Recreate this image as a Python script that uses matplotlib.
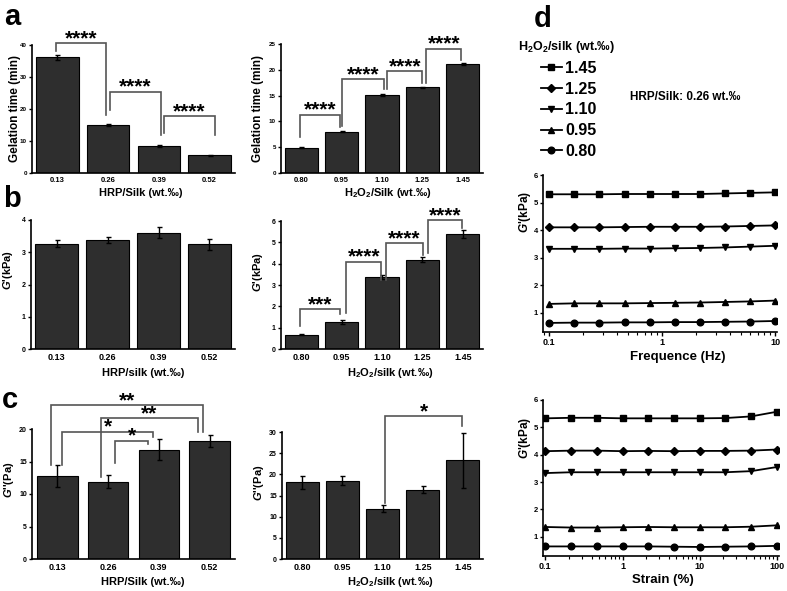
import matplotlib
matplotlib.use('Agg')
import matplotlib.pyplot as plt
from matplotlib.ticker import NullFormatter

plt.rcParams['font.family'] = 'Liberation Sans'
plt.rcParams['font.weight'] = 'bold'
plt.rcParams['mathtext.fontset'] = 'custom'
plt.rcParams['mathtext.rm'] = 'Liberation Sans:bold'
plt.rcParams['mathtext.it'] = 'Liberation Sans:italic:bold'
plt.rcParams['mathtext.bf'] = 'Liberation Sans:bold'

# ---- data ----
hrp_levels = ['0.13', '0.26', '0.39', '0.52']
h2o2_levels = ['0.80', '0.95', '1.10', '1.25', '1.45']

gel_hrp = [36.2, 15.1, 8.4, 5.5]
gel_hrp_err = [0.8, 0.3, 0.2, 0.2]
gel_h2o2 = [4.9, 8.0, 15.1, 16.6, 21.1]
gel_h2o2_err = [0.15, 0.15, 0.2, 0.15, 0.25]

gp_hrp = [3.27, 3.38, 3.60, 3.25]
gp_hrp_err = [0.1, 0.1, 0.17, 0.17]
gp_h2o2 = [0.67, 1.27, 3.38, 4.18, 5.38]
gp_h2o2_err = [0.03, 0.1, 0.08, 0.12, 0.2]

gpp_hrp = [12.8, 11.9, 16.8, 18.2]
gpp_hrp_err = [1.7, 1.0, 1.6, 0.9]
gpp_h2o2 = [18.1, 18.5, 11.9, 16.4, 23.3]
gpp_h2o2_err = [1.5, 1.0, 0.9, 0.8, 6.5]

# significance brackets: (left x, right x, top y, left leg end, right leg end, label)
sig_gel_hrp = [(-0.02, 0.96, 40.5, 38.2, 18.1, '****'),
               (1.04, 2.04, 25.4, 19.7, 11.9, '****'),
               (2.1, 3.1, 17.8, 12.5, 11.9, '****')]
sig_gel_h2o2 = [(-0.04, 0.96, 11.3, 6.9, 9.0, '****'),
                (1.02, 2.05, 18.2, 9.1, 16.2, '****'),
                (2.13, 3.0, 19.8, 16.2, 17.5, '****'),
                (3.1, 3.96, 24.1, 17.5, 21.9, '****')]
sig_gp_h2o2 = [(-0.02, 0.96, 1.87, 1.06, 1.65, '***'),
               (1.12, 1.98, 4.09, 1.68, 3.24, '****'),
               (2.1, 3.02, 4.95, 3.24, 4.41, '****'),
               (3.13, 3.98, 6.04, 4.49, 5.65, '****')]
sig_gpp_hrp = [(-0.13, 2.86, 23.7, 14.5, 19.6, '**'),
               (0.85, 2.77, 21.7, 12.6, 19.6, '**'),
               (0.09, 1.89, 19.6, 14.5, 18.8, '*'),
               (1.13, 1.79, 18.2, 14.8, 17.7, '*')]
sig_gpp_h2o2 = [(2.07, 3.98, 33.7, 13.2, 31.3, '*')]

series_labels = ['1.45', '1.25', '1.10', '0.95', '0.80']
series_markers = ['s', 'D', 'v', '^', 'o']

freq = [0.1, 0.167, 0.278, 0.464, 0.774, 1.29, 2.15, 3.59, 5.99, 10.0]
freq_145 = [5.30, 5.30, 5.30, 5.31, 5.31, 5.31, 5.31, 5.33, 5.35, 5.37]
freq_125 = [4.10, 4.10, 4.10, 4.11, 4.12, 4.12, 4.12, 4.13, 4.15, 4.17]
freq_110 = [3.32, 3.32, 3.32, 3.33, 3.33, 3.34, 3.35, 3.37, 3.40, 3.43]
freq_095 = [1.32, 1.34, 1.34, 1.34, 1.35, 1.36, 1.37, 1.39, 1.41, 1.44]
freq_080 = [0.63, 0.64, 0.64, 0.65, 0.65, 0.66, 0.66, 0.67, 0.68, 0.70]

strain = [0.1, 0.215, 0.464, 1.0, 2.15, 4.64, 10.0, 21.5, 46.4, 100.0]
strain_145 = [5.33, 5.35, 5.35, 5.33, 5.33, 5.33, 5.33, 5.34, 5.40, 5.57]
strain_125 = [4.13, 4.15, 4.15, 4.13, 4.14, 4.13, 4.14, 4.14, 4.15, 4.19]
strain_110 = [3.33, 3.36, 3.36, 3.36, 3.36, 3.36, 3.36, 3.36, 3.40, 3.55]
strain_095 = [1.36, 1.34, 1.34, 1.35, 1.36, 1.35, 1.35, 1.35, 1.37, 1.42]
strain_080 = [0.65, 0.65, 0.65, 0.65, 0.65, 0.64, 0.63, 0.64, 0.65, 0.67]

W, H = 787, 591
fig = plt.figure(figsize=(W / 100, H / 100), dpi=100)
fig.patch.set_facecolor('white')


def px_axes(left, top, right, bottom):
    return fig.add_axes([left / W, 1 - bottom / H, (right - left) / W, (bottom - top) / H])


def ftext(x, y, s, **kw):
    return fig.text(x / W, 1 - y / H, s, **kw)


def style_axes(ax):
    for s in ['top', 'right']:
        ax.spines[s].set_visible(False)
    for s in ['left', 'bottom']:
        ax.spines[s].set_linewidth(1.2)


def bar_panel(ax, labels, vals, errs, ymax, ystep, width, xsize, ysize):
    x = list(range(len(vals)))
    ax.bar(x, vals, width=width, color='#2e2e2e', edgecolor='black', linewidth=0.8,
           yerr=errs, capsize=1.8, error_kw=dict(elinewidth=1.0, capthick=1.0, ecolor='black'))
    ax.set_xlim(-0.5, len(vals) - 0.5)
    ax.set_ylim(0, ymax)
    ax.set_yticks(list(range(0, ymax + 1, ystep)))
    ax.set_xticks(x)
    ax.set_xticklabels(labels)
    style_axes(ax)
    ax.tick_params(axis='x', length=0, labelsize=xsize, pad=3)
    ax.tick_params(axis='y', length=2.5, width=1.0, labelsize=ysize, pad=1.2)


def add_brackets(ax, brackets, fs=15):
    for xl, xr, yt, yl, yr, lab in brackets:
        ax.plot([xl, xl, xr, xr], [yl, yt, yt, yr], color='#555555', lw=1.2,
                clip_on=False, solid_joinstyle='miter')
        ax.annotate(lab, ((xl + xr) / 2, yt), xytext=(0, -0.8), textcoords='offset points',
                    ha='center', va='baseline', fontsize=fs, fontweight='bold',
                    annotation_clip=False)


# ---- panel a ----
ax = px_axes(32, 45, 235, 173)
bar_panel(ax, hrp_levels, gel_hrp, gel_hrp_err, 40, 10, 0.84, 5.5, 4.5)
add_brackets(ax, sig_gel_hrp)
ftext(15, 108, 'Gelation time (min)', rotation=90, ha='center', va='center', fontsize=8.5)
ftext(141, 193, 'HRP/Silk (wt.‰)', ha='center', va='center', fontsize=8)

ax = px_axes(281, 44, 483, 173)
bar_panel(ax, h2o2_levels, gel_h2o2, gel_h2o2_err, 25, 5, 0.82, 5.5, 4.5)
add_brackets(ax, sig_gel_h2o2)
ftext(258, 108, 'Gelation time (min)', rotation=90, ha='center', va='center', fontsize=8.5)
ftext(388, 193, 'H$_2$O$_2$/Silk (wt.‰)', ha='center', va='center', fontsize=8)

# ---- panel b ----
ax = px_axes(31, 220, 235, 349)
bar_panel(ax, hrp_levels, gp_hrp, gp_hrp_err, 4, 1, 0.84, 6.5, 5)
ftext(8, 270, "$G$'(kPa)", rotation=90, ha='center', va='center', fontsize=8)
ftext(143, 373, 'HRP/silk (wt.‰)', ha='center', va='center', fontsize=8)

ax = px_axes(281, 221, 483, 349)
bar_panel(ax, h2o2_levels, gp_h2o2, gp_h2o2_err, 6, 1, 0.82, 6.5, 5)
add_brackets(ax, sig_gp_h2o2)
ftext(258, 272, "$G$'(kPa)", rotation=90, ha='center', va='center', fontsize=8)
ftext(390, 373, 'H$_2$O$_2$/silk (wt.‰)', ha='center', va='center', fontsize=8)

# ---- panel c ----
ax = px_axes(32, 429, 235, 559)
bar_panel(ax, hrp_levels, gpp_hrp, gpp_hrp_err, 20, 5, 0.8, 6.5, 5)
add_brackets(ax, sig_gpp_hrp)
ftext(9, 480, "$G$''(Pa)", rotation=90, ha='center', va='center', fontsize=8)
ftext(143, 582, 'HRP/Silk (wt.‰)', ha='center', va='center', fontsize=8)

ax = px_axes(282, 432, 483, 559)
bar_panel(ax, h2o2_levels, gpp_h2o2, gpp_h2o2_err, 30, 5, 0.82, 6.5, 5)
add_brackets(ax, sig_gpp_h2o2)
ftext(259, 483, "$G$''(Pa)", rotation=90, ha='center', va='center', fontsize=8)
ftext(390, 582, 'H$_2$O$_2$/silk (wt.‰)', ha='center', va='center', fontsize=8)

# ---- panel d ----
def sweep_panel(ax, xs, series, xlim, xticks, xticklabels):
    lines = []
    for ys, lab, mk in zip(series, series_labels, series_markers):
        ms = 4.0 if mk in ('s', 'D') else 4.8
        ln, = ax.plot(xs, ys, color='black', lw=1.3, marker=mk, markersize=ms, label=lab)
        lines.append(ln)
    ax.set_xscale('log')
    ax.set_xlim(*xlim)
    ax.set_ylim(0.3, 6)
    ax.set_yticks([1, 2, 3, 4, 5, 6])
    ax.set_xticks(xticks)
    ax.set_xticklabels(xticklabels)
    ax.xaxis.set_minor_formatter(NullFormatter())
    style_axes(ax)
    ax.tick_params(axis='x', which='major', length=3, width=1.0, labelsize=6.5, pad=1.5)
    ax.tick_params(axis='x', which='minor', length=1.8, width=0.8)
    ax.tick_params(axis='y', length=2.5, width=1.0, labelsize=5.5, pad=1.2)
    return lines

ax_f = px_axes(543, 175, 777, 332)
lines = sweep_panel(ax_f, freq, [freq_145, freq_125, freq_110, freq_095, freq_080],
                    (0.088, 10.4), [0.1, 1, 10], ['0.1', '1', '10'])
ftext(525, 212, "$G$'(kPa)", rotation=90, ha='center', va='center', fontsize=8.5)
ftext(678, 357, 'Frequence (Hz)', ha='center', va='center', fontsize=9.5)

ax_s = px_axes(543, 400, 779, 556)
sweep_panel(ax_s, strain, [strain_145, strain_125, strain_110, strain_095, strain_080],
            (0.093, 107), [0.1, 1, 10, 100], ['0.1', '1', '10', '100'])
ftext(525, 438, "$G$'(kPa)", rotation=90, ha='center', va='center', fontsize=8.5)
ftext(663, 580, 'Strain (%)', ha='center', va='center', fontsize=9.5)

ax_f.legend(handles=lines, loc='upper left', bbox_to_anchor=(541 / W, 1 - 61 / H),
            bbox_transform=fig.transFigure, frameon=False,
            handlelength=1.3, handletextpad=0.2, labelspacing=0.36, borderpad=0,
            borderaxespad=0, numpoints=1, prop={'weight': 'bold', 'size': 11.5})
ftext(518, 47, 'H$_2$O$_2$/silk (wt.‰)', ha='left', va='center', fontsize=9)
ftext(630, 97, 'HRP/Silk: 0.26 wt.‰', ha='left', va='center', fontsize=8.5)

# ---- panel letters ----
for lx, ly, letter in [(4, 25, 'a'), (3, 207, 'b'), (2, 408, 'c'), (534, 27, 'd')]:
    ftext(lx, ly, letter, ha='left', va='baseline', fontsize=21, fontweight='bold')

fig.savefig('out.png', dpi=100)
